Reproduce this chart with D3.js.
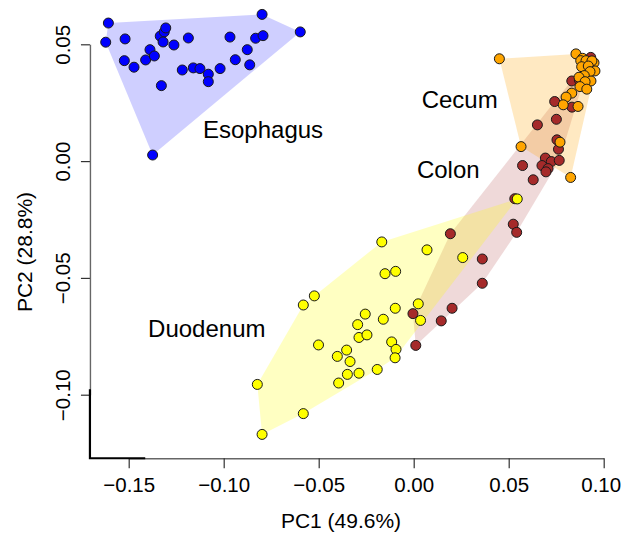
<!DOCTYPE html>
<html>
<head>
<meta charset="utf-8">
<script src="https://cdn.jsdelivr.net/npm/d3@7"></script>
<style>
  body { margin: 0; background: #fff; }
  text { font-family: "Liberation Sans", Arial, Helvetica, sans-serif; fill: #000; }
</style>
</head>
<body>
<div id="chart"></div>
<script>
// PCA scores, [PC1, PC2]
const esophagus = [
  [-0.1607, 0.0591], [-0.1621, 0.0509], [-0.1519, 0.0523], [-0.1523, 0.0430],
  [-0.1472, 0.0402], [-0.1411, 0.0433], [-0.1388, 0.0477], [-0.1365, 0.0450],
  [-0.1334, 0.0535], [-0.1313, 0.0553], [-0.1305, 0.0570], [-0.1319, 0.0510],
  [-0.1262, 0.0497], [-0.1328, 0.0323], [-0.1186, 0.0527], [-0.1218, 0.0390],
  [-0.1160, 0.0399], [-0.1125, 0.0396], [-0.1081, 0.0372], [-0.1081, 0.0340],
  [-0.1019, 0.0396], [-0.0967, 0.0531], [-0.0939, 0.0434], [-0.0876, 0.0477],
  [-0.0863, 0.0412], [-0.0832, 0.0526], [-0.0793, 0.0537], [-0.0798, 0.0628],
  [-0.0597, 0.0553], [-0.1374, 0.0026]
];
const colon = [
  [0.0932, 0.0444], [0.0832, 0.0343], [0.0872, 0.0347], [0.0742, 0.0255],
  [0.0833, 0.0231], [0.0751, 0.0179], [0.0651, 0.0155], [0.0754, 0.0091],
  [0.0762, 0.0051], [0.0693, 0.0013], [0.0724, -0.0002], [0.0766, 0.0003],
  [0.0675, -0.0019], [0.0707, -0.0032], [0.0696, -0.0046], [0.0573, -0.0019],
  [0.0629, -0.0080], [0.0532, -0.0161], [0.0524, -0.0270], [0.0542, -0.0305],
  [0.0193, -0.0311], [0.0361, -0.0419], [0.0361, -0.0523], [0.0202, -0.0630],
  [0.0145, -0.0684], [-0.0004, -0.0653], [0.0011, -0.0789]
];
const cecum = [
  [0.0451, 0.0438], [0.0854, 0.0459], [0.0889, 0.0440], [0.0879, 0.0430],
  [0.0907, 0.0430], [0.0949, 0.0421], [0.0938, 0.0429], [0.0884, 0.0404],
  [0.0919, 0.0407], [0.0954, 0.0386], [0.0928, 0.0383], [0.0898, 0.0366],
  [0.0870, 0.0359], [0.0933, 0.0343], [0.0902, 0.0340], [0.0875, 0.0319],
  [0.0911, 0.0308], [0.0832, 0.0291], [0.0802, 0.0274], [0.0787, 0.0241],
  [0.0865, 0.0234], [0.0770, 0.0081], [0.0565, 0.0062], [0.0826, -0.0070]
];
const duodenum = [
  [-0.0168, -0.0346], [0.0070, -0.0380], [0.0258, -0.0413], [-0.0151, -0.0482],
  [-0.0095, -0.0472], [-0.0523, -0.0577], [-0.0581, -0.0616], [-0.0097, -0.0630],
  [0.0024, -0.0611], [0.0036, -0.0682], [-0.0255, -0.0655], [-0.0160, -0.0677],
  [-0.0295, -0.0700], [-0.0288, -0.0755], [-0.0246, -0.0744], [-0.0116, -0.0774],
  [-0.0093, -0.0806], [-0.0353, -0.0809], [-0.0501, -0.0787], [-0.0402, -0.0836],
  [-0.0335, -0.0858], [-0.0098, -0.0842], [-0.0192, -0.0892], [-0.0288, -0.0908],
  [-0.0349, -0.0913], [-0.0395, -0.0950], [-0.0823, -0.0956], [-0.0581, -0.1081],
  [-0.0798, -0.1170], [0.0545, -0.0162]
];

const groupNames = ["Esophagus", "Colon", "Cecum", "Duodenum"];
const groupColors = ["#0000ff", "#a52a2a", "#ffa500", "#ffff00"];
const groupLabelPos = [[-0.1109, 0.0100], [0.0017, -0.0071], [0.0042, 0.0228], [-0.1398, -0.0755]];
const groups = [esophagus, colon, cecum, duodenum];

const xTicks = [-0.15, -0.10, -0.05, 0.00, 0.05, 0.10];
const yTicks = [-0.10, -0.05, 0.00, 0.05];
const xTitle = "PC1 (49.6%)";
const yTitle = "PC2 (28.8%)";

const width = 621, height = 533;
const boxX0 = -0.1704, boxX1 = -0.1413;   // black corner piece, x extent
const boxY0 = -0.1272, boxY1 = -0.0977;   // black corner piece, y extent

const svg = d3.select("#chart").append("svg")
  .attr("width", width).attr("height", height);

const x = d3.scaleLinear().domain([-0.15, 0.10]).range([128.7, 603.7]);
const y = d3.scaleLinear().domain([-0.10, 0.05]).range([394.7, 44.3]);

// hulls
const hulls = svg.append("g");
groups.forEach((pts, i) => {
  const hull = d3.polygonHull(pts.map(d => [x(d[0]), y(d[1])]));
  hulls.append("path")
    .attr("d", "M" + hull.join("L") + "Z")
    .attr("fill", groupColors[i])
    .attr("fill-opacity", i === 0 ? 0.19 : (i === 1 ? 0.18 : 0.24));
});

// axes
const fmt = d3.format(".2f");
const xAxis = svg.append("g")
  .attr("transform", `translate(0,${y(boxY0)})`)
  .call(d3.axisBottom(x).tickValues(xTicks).tickFormat(fmt).tickSizeOuter(0).tickSizeInner(10).tickPadding(6));
const yAxis = svg.append("g")
  .attr("transform", `translate(${x(boxX0)},0)`)
  .call(d3.axisLeft(y).tickValues(yTicks).tickFormat(fmt).tickSizeOuter(0).tickSizeInner(9).tickPadding(0));

[xAxis, yAxis].forEach(a => {
  a.select(".domain").attr("stroke", "#666").attr("stroke-width", 1.4);
  a.selectAll(".tick line").attr("stroke", "#333").attr("stroke-width", 1.2);
  a.selectAll(".tick text").attr("font-size", 20.5).attr("fill", "#000")
    .attr("font-family", "Liberation Sans, Arial, sans-serif");
});
xAxis.selectAll(".tick text").attr("dy", "0.71em").attr("y", 19)
  .attr("dx", (d, i) => i === xTicks.length - 1 ? -3 : 0);
yAxis.selectAll(".tick text")
  .attr("text-anchor", "middle")
  .attr("x", null).attr("dy", null)
  .attr("transform", "translate(-20,0) rotate(-90)");

// black corner piece
svg.append("path")
  .attr("d", d3.line()([[x(boxX0), y(boxY1)], [x(boxX0), y(boxY0)], [x(boxX1), y(boxY0)]]))
  .attr("fill", "none").attr("stroke", "#000").attr("stroke-width", 2.2);

// points
groups.forEach((pts, i) => {
  svg.append("g").selectAll("circle")
    .data(pts).join("circle")
    .attr("cx", d => x(d[0]))
    .attr("cy", d => y(d[1]))
    .attr("r", 5)
    .attr("fill", groupColors[i])
    .attr("stroke", "#1a1a1a")
    .attr("stroke-width", 1);
});

// group labels
svg.append("g").selectAll("text")
  .data(groupNames).join("text")
  .attr("x", (d, i) => x(groupLabelPos[i][0]))
  .attr("y", (d, i) => y(groupLabelPos[i][1]))
  .attr("font-size", 24)
  .text(d => d);

// axis titles
svg.append("text")
  .attr("x", 341).attr("y", 528)
  .attr("text-anchor", "middle").attr("font-size", 21)
  .text(xTitle);
svg.append("text")
  .attr("transform", "translate(32,252) rotate(-90)")
  .attr("text-anchor", "middle").attr("font-size", 21)
  .text(yTitle);
</script>
</body>
</html>
